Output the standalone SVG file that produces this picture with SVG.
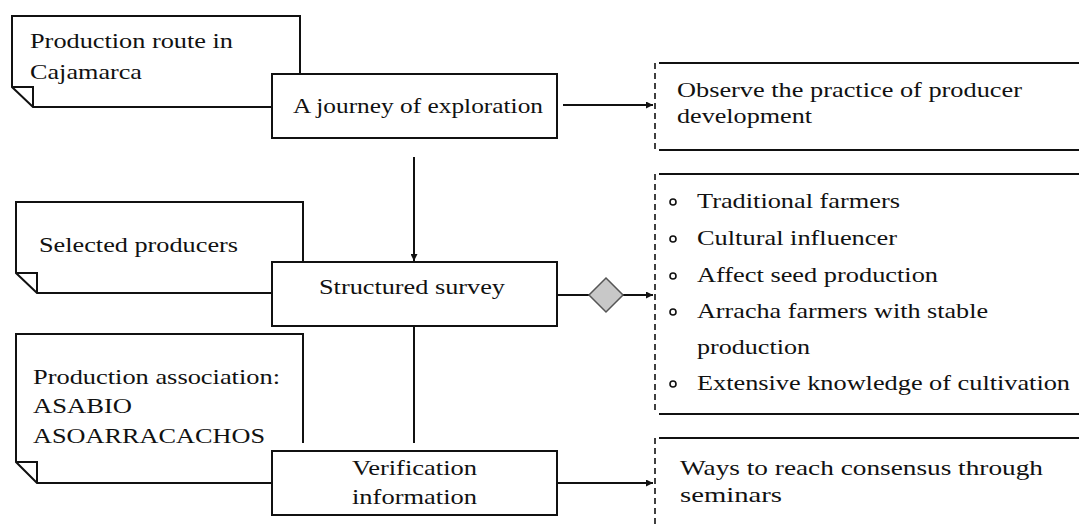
<svg xmlns="http://www.w3.org/2000/svg" width="1079" height="525" viewBox="0 0 1079 525">
<style>
text{font-family:"Liberation Serif",Tinos,"Nimbus Roman","Nimbus Roman No9 L","Times New Roman",Times,FreeSerif,"Noto Serif",serif;font-size:21px;fill:#111}
.ln{fill:none;stroke:#111;stroke-width:2}
.box{fill:#fff;stroke:#111;stroke-width:2}
.dash{fill:none;stroke:#111;stroke-width:1.6;stroke-dasharray:6 4}
.bul{fill:none;stroke:#111;stroke-width:1.6}
</style>
<defs>
<marker id="ah" viewBox="0 0 10 10" refX="10" refY="5" markerWidth="7" markerHeight="7" markerUnits="userSpaceOnUse" orient="auto">
<path d="M0,0 L10,5 L0,10 z" fill="#111"/>
</marker>
</defs>
<g id="note-route">
<path class="ln" d="M300,74 L300,16 L12,16 L12,87 L33,107 L272,107"/>
<path class="ln" d="M12,87 L33,87 L33,107"/>
<text x="30" y="48" textLength="203" lengthAdjust="spacingAndGlyphs">Production route in</text>
<text x="30" y="79" textLength="112" lengthAdjust="spacingAndGlyphs">Cajamarca</text>
</g>
<g id="note-selected">
<path class="ln" d="M303,262 L303,202 L16,202 L16,273 L37,293 L272,293"/>
<path class="ln" d="M16,273 L37,273 L37,293"/>
<text x="39" y="252" textLength="199" lengthAdjust="spacingAndGlyphs">Selected producers</text>
</g>
<g id="note-association">
<path class="ln" d="M303,443 L303,334 L16,334 L16,462 L37,483 L272,483"/>
<path class="ln" d="M16,462 L37,462 L37,483"/>
<text x="33" y="384" textLength="247" lengthAdjust="spacingAndGlyphs">Production association:</text>
<text x="33" y="413" textLength="99" lengthAdjust="spacingAndGlyphs">ASABIO</text>
<text x="33" y="443" textLength="232" lengthAdjust="spacingAndGlyphs">ASOARRACACHOS</text>
</g>
<g id="connectors">
<line class="ln" x1="563" y1="105" x2="653" y2="105" marker-end="url(#ah)"/>
<line class="ln" x1="414" y1="157" x2="414" y2="261" marker-end="url(#ah)"/>
<line class="ln" x1="557" y1="295" x2="590" y2="295"/>
<line class="ln" x1="622" y1="295" x2="653" y2="295" marker-end="url(#ah)"/>
<line class="ln" x1="414" y1="326" x2="414" y2="443"/>
<line class="ln" x1="557" y1="483" x2="653" y2="483" marker-end="url(#ah)"/>
</g>
<g id="diamond">
<path d="M606,278 L623,295 L606,312 L589,295 z" fill="#c8c8c8" stroke="#555" stroke-width="1.5"/>
</g>
<g id="box-journey">
<rect class="box" x="272" y="74" width="285" height="64"/>
<text x="293" y="113" textLength="250" lengthAdjust="spacingAndGlyphs">A journey of exploration</text>
</g>
<g id="box-survey">
<rect class="box" x="272" y="262" width="285" height="64"/>
<text x="319" y="294" textLength="186" lengthAdjust="spacingAndGlyphs">Structured survey</text>
</g>
<g id="box-verification">
<rect class="box" x="272" y="451" width="285" height="64"/>
<text x="352" y="475" textLength="125" lengthAdjust="spacingAndGlyphs">Verification</text>
<text x="352" y="504" textLength="125" lengthAdjust="spacingAndGlyphs">information</text>
</g>
<g id="box-observe">
<line class="dash" x1="655" y1="63" x2="655" y2="150"/>
<line class="ln" x1="659" y1="63" x2="1079" y2="63"/>
<line class="ln" x1="659" y1="150" x2="1079" y2="150"/>
<text x="677" y="97" textLength="345" lengthAdjust="spacingAndGlyphs">Observe the practice of producer</text>
<text x="677" y="123" textLength="135" lengthAdjust="spacingAndGlyphs">development</text>
</g>
<g id="box-criteria">
<line class="dash" x1="655" y1="174" x2="655" y2="414"/>
<line class="ln" x1="659" y1="174" x2="1079" y2="174"/>
<line class="ln" x1="659" y1="414" x2="1079" y2="414"/>
<circle class="bul" cx="673" cy="202" r="3"/>
<circle class="bul" cx="673" cy="239" r="3"/>
<circle class="bul" cx="673" cy="276" r="3"/>
<circle class="bul" cx="673" cy="312" r="3"/>
<circle class="bul" cx="673" cy="384" r="3"/>
<text x="697" y="208" textLength="203" lengthAdjust="spacingAndGlyphs">Traditional farmers</text>
<text x="697" y="245" textLength="200" lengthAdjust="spacingAndGlyphs">Cultural influencer</text>
<text x="697" y="282" textLength="241" lengthAdjust="spacingAndGlyphs">Affect seed production</text>
<text x="697" y="318" textLength="291" lengthAdjust="spacingAndGlyphs">Arracha farmers with stable</text>
<text x="697" y="354" textLength="113" lengthAdjust="spacingAndGlyphs">production</text>
<text x="697" y="390" textLength="373" lengthAdjust="spacingAndGlyphs">Extensive knowledge of cultivation</text>
</g>
<g id="box-consensus">
<line class="dash" x1="655" y1="438" x2="655" y2="525"/>
<line class="ln" x1="659" y1="438" x2="1079" y2="438"/>
<text x="680" y="475" textLength="363" lengthAdjust="spacingAndGlyphs">Ways to reach consensus through</text>
<text x="680" y="502" textLength="102" lengthAdjust="spacingAndGlyphs">seminars</text>
</g>
</svg>
